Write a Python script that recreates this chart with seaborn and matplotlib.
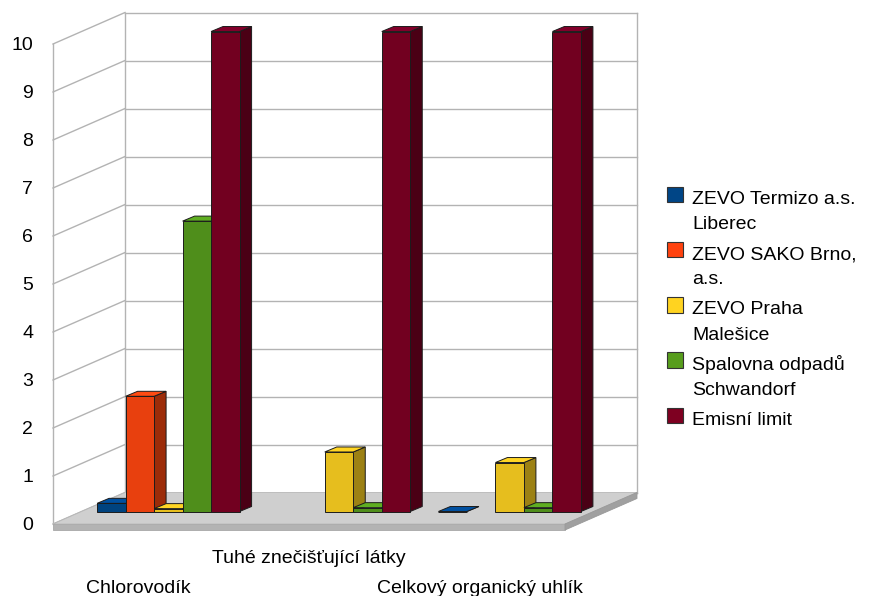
import numpy as np
import pandas as pd
import seaborn as sns
import matplotlib
matplotlib.use("Agg")
import matplotlib.pyplot as plt
from matplotlib.patches import Polygon, Rectangle
from matplotlib.lines import Line2D
from matplotlib.transforms import Affine2D, IdentityTransform

# ---- data -------------------------------------------------------------
categories = ["Chlorovodík", "Tuhé znečišťující látky", "Celkový organický uhlík"]
series = ["ZEVO Termizo a.s. Liberec", "ZEVO SAKO Brno, a.s.", "ZEVO Praha Malešice",
          "Spalovna odpadů Schwandorf", "Emisní limit"]
legend_labels = ["ZEVO Termizo a.s.\nLiberec", "ZEVO SAKO Brno,\na.s.", "ZEVO Praha\nMalešice",
                 "Spalovna odpadů\nSchwandorf", "Emisní limit"]
termizo = [0.17, np.nan, 0.0]
sako = [2.4, np.nan, np.nan]
praha = [0.06, 1.24, 1.02]
schwandorf = [6.05, 0.08, 0.08]
limit = [10.0, 10.0, 10.0]
yticks = list(range(0, 11))

# ---- colours ----------------------------------------------------------
legend_colors = ["#004586", "#ff420e", "#ffd320", "#579d1c", "#7e0021"]
front_colors = ["#00437f", "#e8400e", "#e6be1e", "#4f8e1b", "#720020"]
side_colors = ["#002c55", "#9c2c09", "#9c8114", "#35600f", "#4a0015"]
top_colors = ["#0050a0", "#ff4b12", "#ffd524", "#5fae21", "#82002a"]
EDGE = "#1c1c1c"
GRID = "#b3b3b3"

values = [termizo, sako, praha, schwandorf, limit]
rows = []
for s, vals in zip(series, values):
    for c, v in zip(categories, vals):
        if not np.isnan(v):
            rows.append({"category": c, "series": s, "value": v})
df = pd.DataFrame(rows)

plt.rcParams["font.family"] = ["Liberation Sans", "DejaVu Sans"]
plt.rcParams["font.size"] = 14

W, H, DPI = 872, 596, 100
fig = plt.figure(figsize=(W / DPI, H / DPI), dpi=DPI)
fig.patch.set_facecolor("white")

# front plane of the box (pixel positions measured from the top-left corner)
FL, FR, FB, FT = 53, 565, 524, 44
ax = fig.add_axes([FL / W, 1 - FB / H, (FR - FL) / W, (FB - FT) / H])

DEPTH = np.array([72.0, 31.5])      # front plane -> back wall
BAR_SHIFT = np.array([30.0, 12.5])  # front plane -> bar front faces
BAR_DEPTH = np.array([12.0, 5.0])   # thickness of each bar
SLAB = 6.0                           # floor thickness

sns.barplot(data=df, x="category", y="value", hue="series", order=categories,
            hue_order=series, palette=dict(zip(series, front_colors)),
            width=0.835, saturation=1, errorbar=None, legend=False,
            edgecolor=EDGE, linewidth=0.7, ax=ax)

ax.set_xlim(-0.5, len(categories) - 0.5)
ax.set_ylim(0, 10)
ax.set_facecolor("none")
for sp in ax.spines.values():
    sp.set_visible(False)
ax.set_xlabel("")
ax.set_ylabel("")
ax.set_xticks([])
ax.set_yticks(yticks)
ax.set_yticklabels([str(t) for t in yticks])
ax.tick_params(axis="y", length=0, pad=14.4, labelsize=14, labelcolor="black")

ident = IdentityTransform()


def disp(x, y):
    return np.asarray(ax.transData.transform((x, y)), dtype=float)


def add_poly(pts, fc, ec, z, lw=0.7):
    p = Polygon(np.asarray(pts), closed=True, facecolor=fc, edgecolor=ec,
                linewidth=lw, transform=ident, clip_on=False, zorder=z,
                joinstyle="miter")
    ax.add_patch(p)


def add_line(p0, p1, z, color=GRID, lw=1.0):
    ln = Line2D([p0[0], p1[0]], [p0[1], p1[1]], color=color, linewidth=lw,
                transform=ident, clip_on=False, zorder=z)
    ax.add_line(ln)


x0, x1 = ax.get_xlim()
# back wall
bl0, br0 = disp(x0, 0) + DEPTH, disp(x1, 0) + DEPTH
bl1, br1 = disp(x0, 10) + DEPTH, disp(x1, 10) + DEPTH
add_poly([bl0, br0, br1, bl1], "white", "none", 0.5)
for t in yticks:
    fl_t = disp(x0, t)
    add_line(disp(x0, t) + DEPTH, disp(x1, t) + DEPTH, 1)
    add_line(fl_t, fl_t + DEPTH, 1)
add_line(bl0, bl1, 1)
add_line(br0, br1, 1)
add_line(disp(x0, 0), disp(x0, 10), 1)

# floor slab
f_l, f_r = disp(x0, 0), disp(x1, 0)
down = np.array([0.0, -SLAB])
add_poly([f_l, f_r, f_r + DEPTH, f_l + DEPTH], "#cfcfcf", "#b8b8b8", 2, lw=0.6)
add_poly([f_l, f_r, f_r + down, f_l + down], "#b3b3b3", "#a8a8a8", 2, lw=0.6)
add_poly([f_r, f_r + DEPTH, f_r + DEPTH + down, f_r + down], "#a0a0a0", "#999999", 2, lw=0.6)

# bars: shift front faces back onto their plane and add side and top faces
bar_list = []
for si, cont in enumerate(ax.containers):
    for patch in cont.patches:
        bar_list.append((patch.get_x(), si, patch))
bar_list.sort(key=lambda b: b[0])
shift = Affine2D().translate(*BAR_SHIFT)
for rank, (_, si, patch) in enumerate(bar_list):
    bx, bw, bh = patch.get_x(), patch.get_width(), patch.get_height()
    p00 = disp(bx, 0) + BAR_SHIFT
    p11 = disp(bx + bw, bh) + BAR_SHIFT
    xa, ya = p00
    xb, yb = p11
    dx, dy = BAR_DEPTH
    z = 10 + 3 * rank
    add_poly([(xb, ya), (xb + dx, ya + dy), (xb + dx, yb + dy), (xb, yb)],
             side_colors[si], EDGE, z)
    add_poly([(xa, yb), (xb, yb), (xb + dx, yb + dy), (xa + dx, yb + dy)],
             top_colors[si], EDGE, z + 1)
    patch.set_transform(ax.transData + shift)
    patch.set_clip_on(False)
    patch.set_zorder(z + 2)

# category labels, the middle one raised
label_drop = [69, 39, 69]
for i, (cat, drop) in enumerate(zip(categories, label_drop)):
    ax.text(i, 0, cat, transform=ax.transData + Affine2D().translate(0, -drop),
            ha="center", va="baseline", fontsize=14, color="black")

# legend: swatch plus wrapped label, one baseline per text line
LEG_X, LEG_TX, SW = 667, 692, 15.5
base0, step, pitch = 204.0, 55.25, 25.0
for i, (lab, col) in enumerate(zip(legend_labels, legend_colors)):
    b = base0 + step * i
    fig.add_artist(Rectangle((LEG_X, H - (b - 2)), SW, SW, transform=ident,
                             facecolor=col, edgecolor="#333333", linewidth=0.8))
    for j, line in enumerate(lab.split("\n")):
        fig.text(LEG_TX / W, 1 - (b + pitch * j) / H, line, ha="left",
                 va="baseline", fontsize=14, color="black")

fig.savefig("out.png", dpi=DPI, facecolor="white")
